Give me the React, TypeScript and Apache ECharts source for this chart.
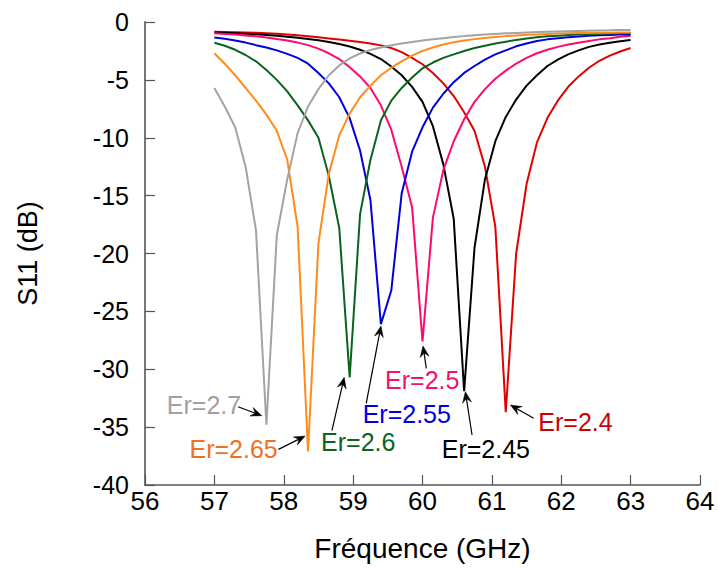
import React, { useEffect, useRef } from "react";
import * as echarts from "echarts";

const freq = [57, 57.15, 57.3, 57.45, 57.6, 57.75, 57.9, 58.05, 58.2, 58.35, 58.5, 58.65, 58.8, 58.95, 59.1, 59.25, 59.4, 59.55, 59.7, 59.85, 60, 60.15, 60.3, 60.45, 60.6, 60.75, 60.9, 61.05, 61.2, 61.35, 61.5, 61.65, 61.8, 61.95, 62.1, 62.25, 62.4, 62.55, 62.7, 62.85, 63];

const s11Er240 = [-0.84, -0.86, -0.88, -0.9, -0.93, -0.97, -1.02, -1.08, -1.15, -1.23, -1.32, -1.42, -1.52, -1.62, -1.73, -1.85, -2.02, -2.25, -2.6, -3.1, -3.65, -4.4, -5.3, -6.4, -7.8, -9.4, -12.5, -17.7, -33.7, -20.0, -14.0, -10.4, -8.3, -6.8, -5.6, -4.7, -3.95, -3.35, -2.9, -2.55, -2.25];
const s11Er245 = [-0.9, -0.93, -0.97, -1.01, -1.06, -1.12, -1.19, -1.27, -1.36, -1.46, -1.58, -1.72, -1.9, -2.12, -2.4, -2.75, -3.2, -3.85, -4.6, -5.6, -6.9, -9.0, -12.3, -17.0, -31.9, -19.5, -13.6, -10.3, -8.2, -6.7, -5.5, -4.6, -3.8, -3.25, -2.8, -2.45, -2.15, -1.95, -1.8, -1.67, -1.56];
const s11Er250 = [-0.98, -1.03, -1.09, -1.16, -1.24, -1.34, -1.46, -1.6, -1.78, -2.0, -2.3, -2.7, -3.2, -3.9, -4.7, -5.7, -7.2, -9.3, -12.5, -16.0, -27.6, -16.9, -12.8, -10.3, -8.4, -6.9, -5.8, -4.9, -4.2, -3.6, -3.1, -2.7, -2.4, -2.15, -1.95, -1.8, -1.65, -1.5, -1.4, -1.28, -1.18];
const s11Er255 = [-1.33, -1.45, -1.6, -1.78, -2.0, -2.2, -2.45, -2.75, -3.1, -3.6, -4.4, -5.3, -6.5, -8.3, -11.1, -15.4, -26.1, -23.2, -14.8, -11.2, -9.1, -7.4, -6.2, -5.2, -4.4, -3.8, -3.25, -2.8, -2.45, -2.1, -1.85, -1.65, -1.5, -1.4, -1.32, -1.25, -1.19, -1.15, -1.12, -1.09, -1.07];
const s11Er260 = [-1.79, -2.05, -2.4, -2.85, -3.4, -4.15, -5.0, -6.0, -7.2, -8.5, -10.0, -13.3, -17.8, -30.7, -16.6, -11.9, -8.5, -6.8, -5.7, -4.8, -4.0, -3.5, -3.1, -2.8, -2.5, -2.25, -2.05, -1.85, -1.7, -1.55, -1.42, -1.32, -1.24, -1.18, -1.13, -1.09, -1.05, -1.02, -0.99, -0.97, -0.95];
const s11Er265 = [-2.7, -3.6, -4.6, -5.7, -6.8, -8.0, -9.4, -11.9, -17.7, -37.1, -19.1, -13.1, -9.8, -7.9, -6.5, -5.5, -4.6, -3.95, -3.4, -2.9, -2.5, -2.2, -1.95, -1.75, -1.6, -1.48, -1.38, -1.3, -1.22, -1.16, -1.11, -1.07, -1.03, -1.0, -0.98, -0.96, -0.94, -0.93, -0.92, -0.91, -0.9];
const s11Er270 = [-5.7, -7.3, -9.1, -12.5, -18.0, -34.8, -18.4, -13.6, -9.6, -7.3, -5.8, -4.6, -3.75, -3.15, -2.72, -2.42, -2.2, -2.0, -1.85, -1.72, -1.6, -1.5, -1.4, -1.3, -1.22, -1.15, -1.09, -1.03, -0.98, -0.94, -0.9, -0.87, -0.84, -0.81, -0.79, -0.77, -0.75, -0.73, -0.72, -0.7, -0.69];

const seriesNames = ["Er=2.4", "Er=2.45", "Er=2.5", "Er=2.55", "Er=2.6", "Er=2.65", "Er=2.7"];
const seriesValues = [s11Er240, s11Er245, s11Er250, s11Er255, s11Er260, s11Er265, s11Er270];
const lineColors = ["#e00000", "#000000", "#ff0a6c", "#0000dd", "#0a641e", "#ff8c1a", "#a3a3a3"];
const textColors = ["#cc0000", "#000000", "#f5106a", "#0000dd", "#0a641e", "#f07020", "#a0a0a0"];

// annotation text centres and arrows (data coordinates)
const labelPos = [[62.205, -34.56], [60.913, -36.89], [59.997, -30.93], [59.773, -33.87], [59.074, -36.29], [57.277, -36.89], [56.851, -33.09]];
const arrowFrom = [[61.603, -34.24], [60.714, -35.68], [60.055, -29.92], [59.189, -32.94], [58.694, -35.31], [57.924, -36.92], [57.342, -33.24]];
const arrowTo = [[61.267, -33.09], [60.618, -31.94], [60.007, -27.99], [59.401, -26.26], [58.872, -30.70], [58.309, -35.77], [57.684, -34.01]];

const xTicks = { min: 56, max: 64, interval: 1 };
const yTicks = { min: -40, max: 0, interval: 5 };

const FONT = "'Liberation Sans', Arial, sans-serif";

export default function App() {
  const ref = useRef<HTMLDivElement>(null);
  useEffect(() => {
    if (!ref.current) return;
    const chart = echarts.init(ref.current, undefined, { renderer: "svg" });
    const series = seriesNames.map((name, i) => ({
      name,
      type: "line",
      data: freq.map((f, j) => [f, seriesValues[i][j]]),
      symbol: "none",
      smooth: false,
      lineStyle: { color: lineColors[i], width: 2 },
      itemStyle: { color: lineColors[i] },
      z: 2 + i,
      markPoint: {
        silent: true,
        symbol: "circle",
        symbolSize: 1,
        itemStyle: { color: "rgba(0,0,0,0)" },
        label: {
          show: true,
          position: "inside",
          formatter: name,
          color: textColors[i],
          fontSize: 25,
          fontFamily: FONT,
        },
        data: [{ coord: labelPos[i] }],
      },
    }));
    chart.setOption({
      animation: false,
      backgroundColor: "#ffffff",
      grid: { left: 145, right: 18, top: 22, bottom: 84 },
      xAxis: {
        type: "value",
        min: xTicks.min,
        max: xTicks.max,
        interval: xTicks.interval,
        name: "Fréquence (GHz)",
        nameLocation: "middle",
        nameGap: 49,
        nameTextStyle: { fontSize: 28, color: "#000", fontFamily: FONT },
        axisLine: { show: true, onZero: false, lineStyle: { color: "#555", width: 1.5 } },
        axisTick: { show: true, inside: true, length: 10, lineStyle: { color: "#555", width: 1.2 } },
        axisLabel: { fontSize: 26, color: "#000", fontFamily: FONT, margin: 3 },
        splitLine: { show: false },
      },
      yAxis: {
        type: "value",
        min: yTicks.min,
        max: yTicks.max,
        interval: yTicks.interval,
        name: "S11 (dB)",
        nameLocation: "middle",
        nameGap: 104,
        nameTextStyle: { fontSize: 27, color: "#000", fontFamily: FONT },
        axisLine: { show: true, onZero: false, lineStyle: { color: "#777", width: 2 } },
        axisTick: { show: true, inside: true, length: 10, lineStyle: { color: "#555", width: 1.2 } },
        axisLabel: { fontSize: 25, color: "#000", fontFamily: FONT, margin: 16 },
        splitLine: { show: false },
      },
      series,
    });

    // arrows: positioned through the chart's own coordinate conversion
    const graphics: any[] = [];
    arrowFrom.forEach((from, i) => {
      const p0 = chart.convertToPixel({ gridIndex: 0 }, from) as number[];
      const p1 = chart.convertToPixel({ gridIndex: 0 }, arrowTo[i]) as number[];
      const dx = p1[0] - p0[0];
      const dy = p1[1] - p0[1];
      const len = Math.sqrt(dx * dx + dy * dy) || 1;
      const ux = dx / len;
      const uy = dy / len;
      const nx = -uy;
      const ny = ux;
      const headLen = 11;
      const headHalf = 4.5;
      const notch = 7;
      graphics.push({
        type: "line",
        silent: true,
        z: 50,
        shape: { x1: p0[0], y1: p0[1], x2: p1[0] - ux * notch, y2: p1[1] - uy * notch },
        style: { stroke: "#000", lineWidth: 1.2 },
      });
      graphics.push({
        type: "polygon",
        silent: true,
        z: 50,
        shape: {
          points: [
            [p1[0], p1[1]],
            [p1[0] - ux * headLen + nx * headHalf, p1[1] - uy * headLen + ny * headHalf],
            [p1[0] - ux * notch, p1[1] - uy * notch],
            [p1[0] - ux * headLen - nx * headHalf, p1[1] - uy * headLen - ny * headHalf],
          ],
        },
        style: { fill: "#000", stroke: "#000", lineWidth: 0.5 },
      });
    });
    chart.setOption({ graphic: graphics });

    return () => chart.dispose();
  }, []);
  return (
    <div
      ref={ref}
      style={{ position: "absolute", left: 0, top: 0, width: 718, height: 569 }}
    />
  );
}
